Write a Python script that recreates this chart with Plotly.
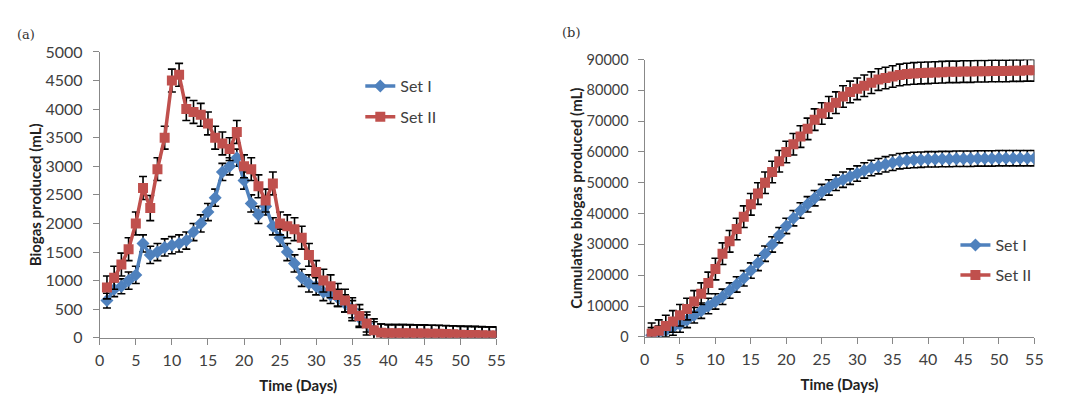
import plotly.graph_objects as go

days = list(range(1, 56))

# (a) daily biogas produced (mL)
set1_daily = [650, 850, 900, 1000, 1100, 1650, 1450, 1500, 1580, 1620,
              1650, 1700, 1850, 2000, 2200, 2450, 2900, 3000, 3150, 2750,
              2350, 2150, 2300, 1950, 1750, 1500, 1300, 1050, 950, 900,
              800, 750, 700, 600, 500, 350, 250, 130, 90, 80,
              80, 80, 75, 75, 70, 70, 65, 60, 55, 50,
              50, 45, 40, 40, 35]
set2_daily = [880, 1050, 1280, 1550, 2000, 2620, 2270, 2950, 3500, 4500,
              4600, 4000, 3950, 3900, 3750, 3500, 3400, 3300, 3600, 3000,
              2950, 2650, 2400, 2700, 2000, 1950, 1900, 1750, 1450, 1150,
              1000, 900, 750, 650, 500, 380, 250, 130, 90, 80,
              80, 80, 80, 75, 75, 70, 70, 65, 60, 55,
              50, 50, 45, 40, 40]
set1_daily_err = [130, 130, 130, 150, 150, 150, 150, 150, 150, 150,
                  150, 150, 150, 150, 150, 150, 150, 150, 150, 150,
                  150, 150, 150, 150, 150, 150, 150, 150, 150, 150,
                  150, 150, 150, 150, 150, 150, 150, 150, 150, 150,
                  150, 150, 150, 150, 150, 150, 150, 150, 150, 150,
                  150, 150, 150, 150, 150]
set2_daily_err = [200, 200, 200, 200, 200, 200, 220, 200, 200, 200,
                  200, 200, 200, 200, 200, 200, 200, 200, 200, 200,
                  200, 200, 200, 200, 200, 200, 200, 200, 200, 200,
                  200, 200, 200, 200, 200, 200, 200, 200, 150, 150,
                  150, 150, 150, 150, 150, 150, 150, 150, 150, 150,
                  150, 150, 150, 150, 150]

# (b) cumulative biogas produced (mL)
set1_cum = [500, 1000, 2000, 3000, 4000, 5500, 7000, 8500, 10000, 11500,
            13000, 15000, 17000, 19000, 21500, 24000, 27000, 30000, 33000, 36000,
            38500, 41000, 43000, 45000, 47000, 48500, 50000, 51000, 52000, 53000,
            54000, 54800, 55400, 56000, 56500, 57000, 57200, 57400, 57500, 57600,
            57600, 57700, 57700, 57800, 57800, 57800, 57900, 57900, 57900, 58000,
            58000, 58000, 58000, 58000, 58000]
set2_cum = [1000, 2000, 3500, 5000, 7000, 9000, 11500, 14000, 17500, 22000,
            27000, 31000, 35000, 39000, 43000, 46500, 50000, 53500, 57000, 60000,
            62500, 65000, 67500, 70500, 72500, 74500, 76000, 78000, 79500, 80500,
            81500, 82500, 83500, 84000, 84500, 85000, 85300, 85500, 85600, 85700,
            85800, 85900, 86000, 86000, 86100, 86100, 86200, 86200, 86300, 86300,
            86300, 86400, 86400, 86500, 86500]
set1_cum_err = [2500] * 55
set2_cum_err = [3500] * 55

BLUE = "#4F81BD"
RED = "#C0504D"
FONT = "Lato"
TXT = "#404040"

W, H = 1072, 403
def fx(p):
    return p / W
def fy(p):
    return 1 - p / H

fig = go.Figure()

def add(x, y, err, name, color, symbol, size, xa, ya, legend):
    fig.add_trace(go.Scatter(
        x=x, y=y, name=name, mode="lines+markers",
        legendgroup=legend + name,
        line=dict(color=color, width=3.5),
        marker=dict(color=color, symbol=symbol, size=size),
        error_y=dict(type="data", array=err, visible=True, color="black",
                     thickness=1.6, width=4),
        xaxis=xa, yaxis=ya, legend=legend))

add(days, set1_daily, set1_daily_err, "Set I", BLUE, "diamond", 10, "x", "y", "legend")
add(days, set2_daily, set2_daily_err, "Set II", RED, "square", 10, "x", "y", "legend")
add(days, set1_cum, set1_cum_err, "Set I", BLUE, "diamond", 10, "x2", "y2", "legend2")
add(days, set2_cum, set2_cum_err, "Set II", RED, "square", 10, "x2", "y2", "legend2")

def axis(size):
    return dict(showgrid=False, zeroline=False, showline=True,
                linecolor="#888888", linewidth=1, ticks="outside",
                tickcolor="#888888", ticklen=6,
                tickfont=dict(family=FONT, size=size, color=TXT))

title_font = dict(family=FONT, size=15, color="#222")

fig.update_layout(
    width=W, height=H,
    margin=dict(l=0, r=0, t=0, b=0),
    paper_bgcolor="white", plot_bgcolor="white",
    xaxis=dict(domain=[fx(96), fx(498)], range=[0, 55], dtick=5, anchor="y",
               ticklabelstandoff=2,
               title=dict(text="<b>Time (Days)</b>", font=title_font, standoff=12),
               **axis(16)),
    yaxis=dict(domain=[fy(344), fy(44)], range=[0, 5000], dtick=500, anchor="x",
               ticklabelstandoff=7,
               title=dict(text="<b>Biogas produced (mL)</b>", font=title_font, standoff=0),
               **axis(16)),
    xaxis2=dict(domain=[fx(648), fx(1043)], range=[0, 55], dtick=5, anchor="y2",
                ticklabelstandoff=2,
                title=dict(text="<b>Time (Days)</b>", font=title_font, standoff=12),
                **axis(16)),
    yaxis2=dict(domain=[fy(343), fy(52)], range=[0, 90000], dtick=10000, anchor="x2",
                tickformat="d", ticklabelstandoff=6,
                title=dict(text="<b>Cumulative biogas produced (mL)</b>", font=title_font, standoff=0),
                **axis(14.5)),
    legend=dict(x=fx(360), y=fy(62), xanchor="left", yanchor="top",
                font=dict(family=FONT, size=16, color=TXT), traceorder="grouped",
                bgcolor="rgba(0,0,0,0)", itemwidth=30, tracegroupgap=7),
    legend2=dict(x=fx(963), y=fy(229), xanchor="left", yanchor="top",
                 font=dict(family=FONT, size=16, color=TXT), traceorder="grouped",
                 bgcolor="rgba(0,0,0,0)", itemwidth=30, tracegroupgap=6),
    annotations=[
        dict(text="(a)", x=fx(21), y=fy(26), xref="paper", yref="paper",
             showarrow=False, xanchor="center", yanchor="middle",
             font=dict(family="DejaVu Serif", size=13, color="#333")),
        dict(text="(b)", x=fx(573), y=fy(24), xref="paper", yref="paper",
             showarrow=False, xanchor="center", yanchor="middle",
             font=dict(family="DejaVu Serif", size=13, color="#333")),
    ],
)

fig.write_html("out.html",
               config={"displayModeBar": False},
               post_script="document.body.style.margin='0';document.body.style.overflow='hidden';")
